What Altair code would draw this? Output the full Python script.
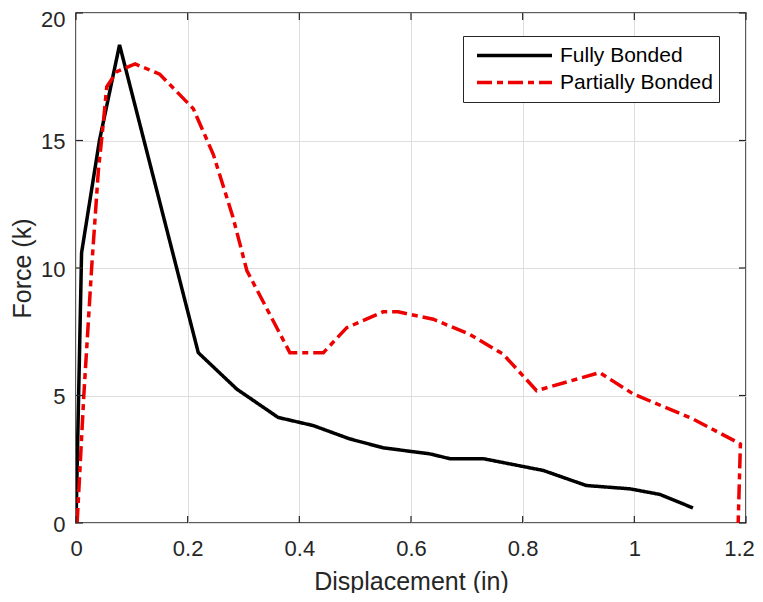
import altair as alt
import pandas as pd

series_names = ["Fully Bonded", "Partially Bonded"]

fb_x = [0.0, 0.010, 0.042, 0.078, 0.219, 0.288, 0.362, 0.425, 0.49, 0.55, 0.634, 0.67, 0.73, 0.837, 0.914, 0.992, 1.046, 1.105]
fb_y = [0.0, 10.6, 15.0, 18.75, 6.68, 5.25, 4.14, 3.82, 3.3, 2.95, 2.71, 2.52, 2.52, 2.06, 1.47, 1.34, 1.12, 0.59]

pb_x = [0.002, 0.014, 0.028, 0.040, 0.049, 0.055, 0.073, 0.106, 0.15, 0.21, 0.246, 0.281, 0.306, 0.383, 0.443,
        0.485, 0.55, 0.577, 0.64, 0.705, 0.765, 0.825, 0.938, 0.998, 1.105, 1.19, 1.186]
pb_y = [0.0, 5.0, 10.0, 13.8, 15.7, 17.1, 17.7, 18.0, 17.6, 16.25, 14.45, 12.0, 9.9, 6.68, 6.68,
        7.66, 8.28, 8.28, 7.99, 7.4, 6.62, 5.19, 5.9, 5.06, 4.08, 3.1, 0.0]

x_ticks = [0, 0.2, 0.4, 0.6, 0.8, 1.0, 1.2]
y_ticks = [0, 5, 10, 15, 20]

rows = []
for i, (x, y) in enumerate(zip(fb_x, fb_y)):
    rows.append({"series": series_names[0], "disp": x, "force": y, "order": i})
for i, (x, y) in enumerate(zip(pb_x, pb_y)):
    rows.append({"series": series_names[1], "disp": x, "force": y, "order": i})
df = pd.DataFrame(rows)

W, H = 670, 510
FONT = "Liberation Sans"
TICK = 7

xscale = alt.Scale(domain=[0, 1.2], nice=False, zero=False)
yscale = alt.Scale(domain=[0, 20], nice=False, zero=False)
x_axis = alt.Axis(values=x_ticks, format="~g", title="Displacement (in)",
                  labelOffset=alt.ExprRef("datum.value >= 1.19 ? -7 : 0"))
y_axis = alt.Axis(values=y_ticks, title="Force (k)",
                  labelOffset=alt.ExprRef("datum.value >= 19.9 ? 6 : 1"))

legend = alt.Legend(
    title=None, orient="none", legendX=387, legendY=23,
    symbolType="stroke", symbolSize=5625, symbolStrokeWidth=3.5, clipHeight=27,
    labelFontSize=21, labelFont=FONT, labelColor="#000000",
    strokeColor="#262626", fillColor="white", padding=6,
    symbolOffset=6, labelOffset=6, rowPadding=0,
)

lines = alt.Chart(df).mark_line(strokeWidth=3.5, clip=True).encode(
    x=alt.X("disp:Q", scale=xscale, axis=x_axis),
    y=alt.Y("force:Q", scale=yscale, axis=y_axis),
    color=alt.Color("series:N", scale=alt.Scale(domain=series_names, range=["#000000", "#ee0000"]), legend=legend),
    strokeDash=alt.StrokeDash("series:N", scale=alt.Scale(domain=series_names, range=[[1, 0], [15, 5, 6, 5]]), legend=legend),
    order="order:Q",
)

xt = pd.DataFrame({"disp": x_ticks})
yt = pd.DataFrame({"force": y_ticks})
tick_style = dict(color="#262626", strokeWidth=1.2)

xb = alt.Chart(xt).mark_rule(**tick_style).encode(
    x=alt.X("disp:Q", scale=xscale, axis=x_axis), y=alt.value(H), y2=alt.value(H - TICK))
xtop = alt.Chart(xt).mark_rule(**tick_style).encode(
    x=alt.X("disp:Q", scale=xscale, axis=x_axis), y=alt.value(0), y2=alt.value(TICK))
yl = alt.Chart(yt).mark_rule(**tick_style).encode(
    y=alt.Y("force:Q", scale=yscale, axis=y_axis), x=alt.value(0), x2=alt.value(TICK))
yr = alt.Chart(yt).mark_rule(**tick_style).encode(
    y=alt.Y("force:Q", scale=yscale, axis=y_axis), x=alt.value(W), x2=alt.value(W - TICK))

chart = alt.layer(lines, xb, xtop, yl, yr).properties(
    width=W, height=H,
    autosize=alt.AutoSizeParams(type="none"),
    padding={"left": 68, "top": 5, "right": 9, "bottom": 70},
).configure_view(
    stroke="#262626", strokeWidth=1.5
).configure_axis(
    grid=True, gridColor="#dedede", gridWidth=1, domain=False, ticks=False,
    labelFont=FONT, labelFontSize=22, labelColor="#262626", labelFlush=False, labelOverlap=False,
    titleFont=FONT, titleFontSize=25, titleFontWeight="normal", titleColor="#262626",
).configure_axisX(
    labelPadding=15, titlePadding=10
).configure_axisY(
    labelPadding=11, titlePadding=5
)

chart.save("out.html", embed_options={"renderer": "svg", "actions": False})
